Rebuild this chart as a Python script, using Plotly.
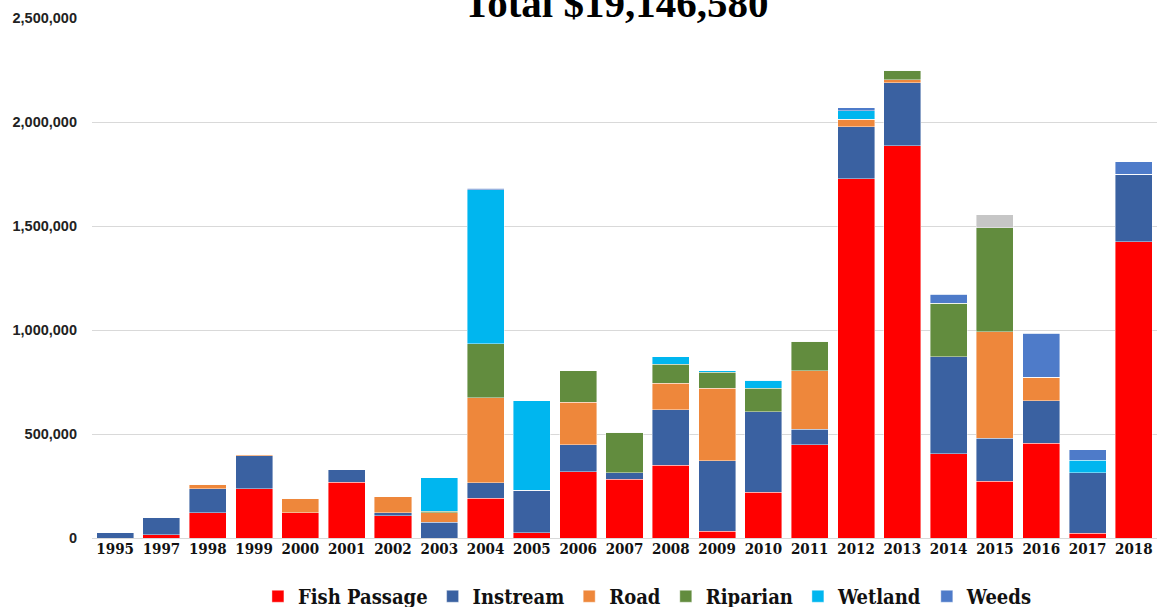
import plotly.graph_objects as go

years = ["1995", "1997", "1998", "1999", "2000", "2001", "2002", "2003", "2004", "2005",
         "2006", "2007", "2008", "2009", "2010", "2011", "2012", "2013", "2014", "2015",
         "2016", "2017", "2018"]

fish_passage = [0, 15000, 122000, 236000, 122000, 267000, 107000, 0, 192000, 26000,
                319000, 282000, 349000, 32000, 221000, 449000, 1728000, 1886000, 404000, 274000,
                455000, 24000, 1425000]
instream = [25000, 85000, 114000, 159000, 0, 61000, 14000, 76000, 74000, 203000,
            130000, 31000, 268000, 340000, 387000, 75000, 248000, 302000, 468000, 205000,
            205000, 289000, 325000]
road = [0, 0, 23000, 8000, 68000, 0, 77000, 46000, 409000, 0,
        203000, 0, 127000, 349000, 0, 279000, 37000, 16000, 0, 513000,
        113000, 0, 0]
riparian = [0, 0, 0, 0, 0, 0, 0, 7000, 258000, 0,
            151000, 195000, 91000, 77000, 113000, 144000, 0, 45000, 256000, 499000,
            0, 0, 0]
wetland = [0, 0, 0, 0, 0, 0, 0, 161000, 742000, 431000,
           0, 0, 37000, 7000, 37000, 0, 40000, 0, 0, 0,
           0, 60000, 0]
weeds = [0, 0, 0, 0, 0, 0, 0, 0, 6000, 0,
         0, 0, 0, 0, 0, 0, 15000, 0, 45000, 0,
         211000, 52000, 58000]
other = [0, 0, 0, 0, 0, 0, 0, 0, 0, 0,
         0, 0, 0, 0, 0, 0, 0, 0, 0, 62000,
         0, 0, 0]

y_ticks = [0, 500000, 1000000, 1500000, 2000000, 2500000]
title_text = "Total $19,146,580"

series = [
    ("Fish Passage", fish_passage, "#FF0000", True),
    ("Instream", instream, "#3A61A1", True),
    ("Road", road, "#EE873B", True),
    ("Riparian", riparian, "#628C3E", True),
    ("Wetland", wetland, "#00B6EF", True),
    ("Weeds", weeds, "#4E7BC9", True),
    ("Other", other, "#C6C6C6", False),
]

fig = go.Figure()
for name, vals, color, show in series:
    fig.add_trace(go.Bar(
        x=years, y=vals, name=name, showlegend=show,
        marker=dict(color=color, line=dict(color="rgba(255,255,255,0.7)", width=0.6)),
    ))

fig.update_layout(
    barmode="stack",
    bargap=0.2,
    width=1158, height=607,
    margin=dict(l=92, r=1, t=18, b=69, autoexpand=False),
    paper_bgcolor="white", plot_bgcolor="white",
    title=dict(text=title_text, x=0.532, xanchor="center", y=0.995, yanchor="middle",
               font=dict(family="Liberation Serif", size=41, color="black", weight="bold")),
    legend=dict(orientation="h", x=0.522, xanchor="center", y=-0.112, yanchor="middle",
                font=dict(family="DejaVu Serif Condensed", size=20, color="#111111", weight="bold"),
                traceorder="normal", itemwidth=30),
    xaxis=dict(range=[-0.5, 22.5], showgrid=False, showline=False, ticks="",
               tickfont=dict(family="DejaVu Serif Condensed", size=15, color="#111111", weight="bold")),
    yaxis=dict(range=[0, 2500000], tickvals=y_ticks, tickformat=",", showgrid=True,
               gridcolor="#D9D9D9", gridwidth=1.2, zeroline=True, zerolinecolor="#D9D9D9",
               zerolinewidth=1.2, ticks="", ticklabelstandoff=14,
               tickfont=dict(family="Liberation Sans", size=14.5, color="#222222", weight="bold")),
)

fig.write_html("out.html", config={"displayModeBar": False},
               post_script="document.body.style.margin='0';document.body.style.overflow='hidden';")
